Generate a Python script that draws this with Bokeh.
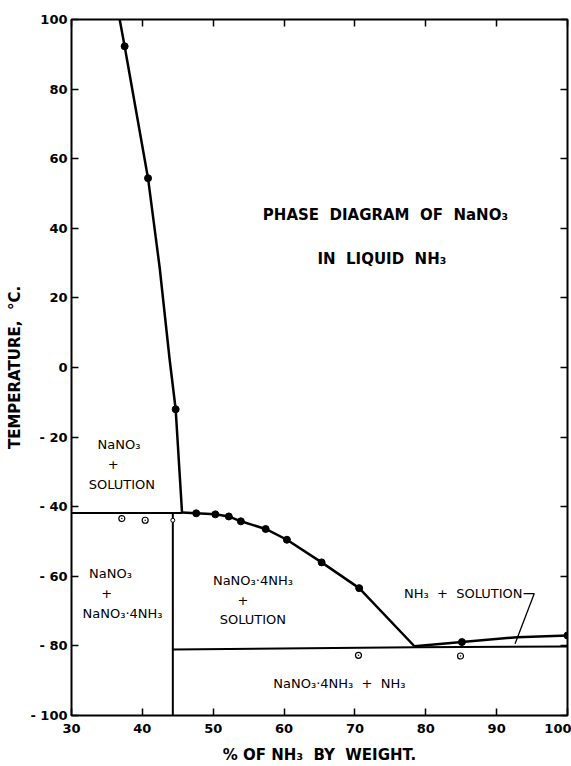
from bokeh.plotting import figure
from bokeh.models import LinearAxis, FixedTicker, ColumnDataSource, Range1d
from bokeh.core.properties import value
from bokeh.embed import file_html
from bokeh.resources import INLINE

# ---------------- data ----------------
x_ticks = [30, 40, 50, 60, 70, 80, 90, 100]
x_tick_labels = ["30", "40", "50", "60", "70", "80", "90", "100"]
y_ticks = [-100, -80, -60, -40, -20, 0, 20, 40, 60, 80, 100]
y_tick_labels = ["-\u00a0100", "-\u00a080", "-\u00a060", "-\u00a040", "-\u00a020", "0",
                 "20", "40", "60", "80", "100"]

# liquidus of NaNO3
nano3_liq_x = [36.8, 37.5, 40.8, 42.45, 43.85, 44.7, 45.6]
nano3_liq_y = [100, 92.3, 54.4, 28.6, 2.3, -12.0, -41.7]
# liquidus of NaNO3.4NH3
tetra_liq_x = [45.6, 47.6, 50.3, 52.2, 53.9, 57.4, 60.4, 65.3, 70.6, 78.4]
tetra_liq_y = [-41.7, -41.9, -42.2, -42.8, -44.2, -46.4, -49.5, -56.0, -63.4, -80.1]
# liquidus of NH3
nh3_liq_x = [78.4, 85.1, 92.9, 100]
nh3_liq_y = [-80.1, -78.9, -77.5, -77.0]

# solid-phase boundaries
upper_eut_x = [30, 45.6]
upper_eut_y = [-41.8, -41.8]
compound_x = [44.3, 44.3]
compound_y = [-41.8, -100]
lower_eut_x = [44.3, 78.4, 100]
lower_eut_y = [-81.0, -80.4, -80.2]

# measured points
filled_x = [37.5, 40.8, 44.7, 47.6, 50.3, 52.2, 53.9, 57.4, 60.4, 65.3, 70.6, 85.1, 100]
filled_y = [92.3, 54.4, -12.0, -41.9, -42.2, -42.8, -44.2, -46.4, -49.5, -56.0, -63.4, -78.9, -77.0]
open_x = [37.1, 40.4, 70.5, 84.9]
open_y = [-43.4, -43.9, -82.7, -82.9]
small_open_x = [44.3]
small_open_y = [-43.9]

# annotation texts
title_lines = ["PHASE\u00a0 DIAGRAM\u00a0 OF\u00a0 NaNO\u2083", "IN\u00a0 LIQUID\u00a0 NH\u2083"]
title_x = [74.3, 73.8]
title_y = [43.8, 31.2]

region_text = ["NaNO\u2083", "+", "SOLUTION",
               "NaNO\u2083", "+", "NaNO\u2083\u00b74NH\u2083",
               "NaNO\u2083\u00b74NH\u2083", "+", "SOLUTION",
               "NaNO\u2083\u00b74NH\u2083\u00a0 +\u00a0 NH\u2083",
               "NH\u2083\u00a0 +\u00a0 SOLUTION"]
region_x = [36.7, 35.9, 37.1,
            35.5, 34.95, 37.2,
            55.6, 54.2, 55.6,
            67.8,
            85.3]
region_y = [-22.1, -28.0, -33.5,
            -59.3, -65.0, -70.8,
            -61.2, -67.0, -72.4,
            -90.8,
            -65.0]

# leader from "NH3 + SOLUTION" to the NH3 liquidus
leader_x = [93.8, 95.3, 92.6]
leader_y = [-65.0, -65.0, -79.4]

FONT = "DejaVu Sans"

p = figure(width=571, height=766, output_backend="svg", toolbar_location=None,
           x_range=Range1d(30, 100), y_range=Range1d(-100, 100),
           min_border_left=71, min_border_right=4, min_border_top=19, min_border_bottom=49,
           background_fill_color="white", border_fill_color="white")
p.grid.visible = False
p.outline_line_color = "black"
p.outline_line_width = 2

def style_axis(ax, ticks, labels, show_labels):
    ax.ticker = FixedTicker(ticks=ticks)
    ax.major_tick_in = 7
    ax.major_tick_out = 0
    ax.major_tick_line_width = 1.5
    ax.major_tick_line_color = "black"
    ax.minor_tick_line_color = None
    ax.axis_line_color = None
    if show_labels:
        ax.major_label_overrides = {t: l for t, l in zip(ticks, labels)}
        ax.major_label_text_font = FONT
        ax.major_label_text_font_size = "13px"
        ax.major_label_text_font_style = "bold"
        ax.major_label_text_color = "black"
    else:
        ax.major_label_overrides = {t: "" for t in ticks}
        ax.major_label_standoff = 0

style_axis(p.xaxis[0], x_ticks, x_tick_labels, True)
style_axis(p.yaxis[0], y_ticks, y_tick_labels, True)
p.xaxis[0].major_label_standoff = 8
p.yaxis[0].major_label_standoff = 4
p.xaxis[0].axis_label = "% OF NH\u2083\u00a0 BY\u00a0 WEIGHT."
p.yaxis[0].axis_label = "TEMPERATURE,\u00a0 \u00b0C."
for ax in (p.xaxis[0], p.yaxis[0]):
    ax.axis_label_text_font = FONT
    ax.axis_label_text_font_size = "15px"
    ax.axis_label_text_font_style = "bold"
    ax.axis_label_text_color = "black"
p.xaxis[0].axis_label_standoff = 10
p.yaxis[0].axis_label_standoff = 3

top_ax = LinearAxis()
style_axis(top_ax, x_ticks, x_tick_labels, False)
p.add_layout(top_ax, "above")
right_ax = LinearAxis()
style_axis(right_ax, y_ticks, y_tick_labels, False)
p.add_layout(right_ax, "right")

# boundaries
p.line(upper_eut_x, upper_eut_y, line_color="black", line_width=2)
p.line(compound_x, compound_y, line_color="black", line_width=2)
p.line(lower_eut_x, lower_eut_y, line_color="black", line_width=2)
# liquidus curves
p.line(nano3_liq_x, nano3_liq_y, line_color="black", line_width=2.5, line_join="round")
p.line(tetra_liq_x, tetra_liq_y, line_color="black", line_width=2.5, line_join="round")
p.line(nh3_liq_x, nh3_liq_y, line_color="black", line_width=2.5, line_join="round")
p.line(leader_x, leader_y, line_color="black", line_width=1.3)

# points
p.scatter(filled_x, filled_y, marker="circle", size=7, fill_color="black", line_color="black")
p.scatter(open_x, open_y, marker="circle_dot", size=6, fill_color="white",
          line_color="black", line_width=1.2)
p.scatter(small_open_x, small_open_y, marker="circle", size=4, fill_color="white",
          line_color="black", line_width=1)

# texts
tsrc = ColumnDataSource(dict(x=title_x, y=title_y, t=title_lines))
p.text(x="x", y="y", text="t", source=tsrc, text_font=value(FONT), text_font_size="15px",
       text_font_style="bold", text_align="center", text_baseline="middle", text_color="black")
rsrc = ColumnDataSource(dict(x=region_x, y=region_y, t=region_text))
p.text(x="x", y="y", text="t", source=rsrc, text_font=value(FONT), text_font_size="13px",
       text_align="center", text_baseline="middle", text_color="black")

open("out.html", "w").write(file_html(p, INLINE))
